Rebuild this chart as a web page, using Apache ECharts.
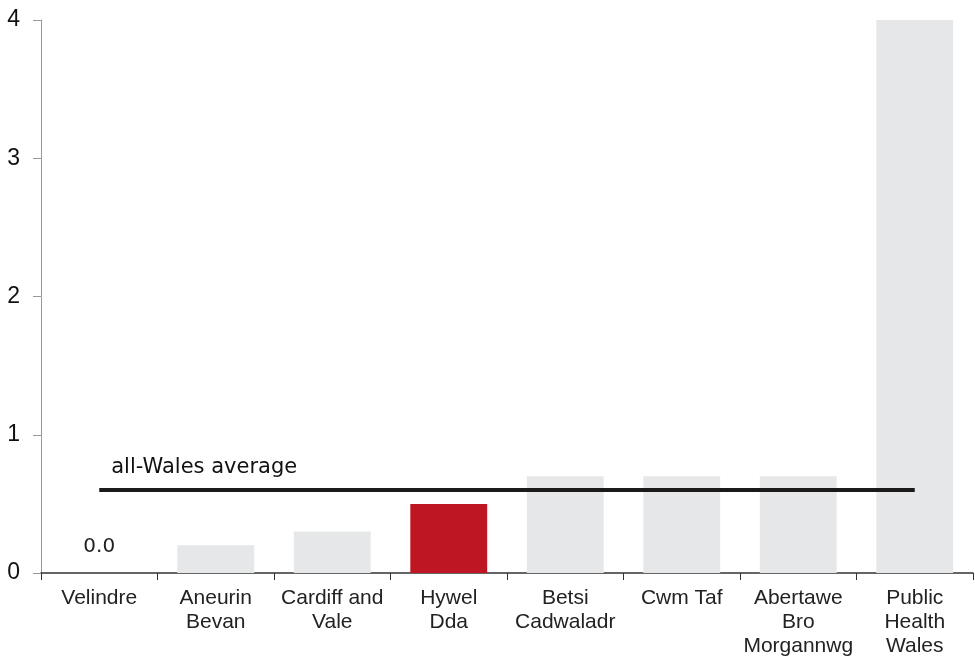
<!DOCTYPE html>
<html><head><meta charset="utf-8">
<script src="https://cdn.jsdelivr.net/npm/echarts@6/dist/echarts.min.js"></script>
<style>html,body{margin:0;padding:0;background:#fff}#c{width:975px;height:660px}</style>
</head><body><div id="c"></div>
<script>
const categories = ['Velindre','Aneurin\nBevan','Cardiff and\nVale','Hywel\nDda','Betsi\nCadwaladr','Cwm Taf','Abertawe\nBro\nMorgannwg','Public\nHealth\nWales'];
const values = [0.0, 0.2, 0.3, 0.5, 0.7, 0.7, 0.7, 4.0];
const highlightIndex = 3;
const average = 0.6;
const averageLabel = 'all-Wales average';
const yTicks = [0, 1, 2, 3, 4];

const FONT = '"Liberation Sans", Arial, sans-serif';
const WIDE = '"DejaVu Sans", sans-serif';
const chart = echarts.init(document.getElementById('c'), null, {renderer:'canvas'});
chart.setOption({
  animation:false,
  grid:{left:41, right:2, top:20, bottom:87, containLabel:false},
  xAxis:{
    type:'category', data:categories, boundaryGap:true,
    axisLine:{lineStyle:{color:'#333', width:1.5}},
    axisTick:{show:true, length:7, lineStyle:{color:'#333'}, alignWithLabel:false},
    axisLabel:{fontFamily:FONT, fontSize:21, color:'#222', lineHeight:24, margin:13, interval:0}
  },
  yAxis:{
    type:'value', min:yTicks[0], max:yTicks[yTicks.length-1], interval:1,
    splitLine:{show:false},
    axisLine:{show:true, lineStyle:{color:'#999'}},
    axisTick:{show:true, length:8, lineStyle:{color:'#999'}},
    axisLabel:{fontFamily:FONT, fontSize:23, color:'#111', margin:21}
  },
  series:[
    {
      type:'bar', barWidth:'66%',
      data: values.map((v,i)=>({
        value:v,
        itemStyle:{color: i===highlightIndex ? '#be1622' : '#e6e7e8'},
        label: v===0 ? {show:true, position:'top', distance:16, formatter:(p)=>p.value.toFixed(1), fontFamily:WIDE, fontSize:20, color:'#222'} : {show:false}
      }))
    },
    {
      type:'line', symbol:'circle', symbolSize:0, z:5,
      lineStyle:{color:'#1a1a1a', width:4},
      itemStyle:{color:'#1a1a1a'},
      data: categories.map((c,i)=> i===0 ? {value:average, label:{show:true, formatter:averageLabel, position:[12,-23], align:'left', verticalAlign:'middle', fontFamily:WIDE, fontSize:21, color:'#111'}} : average)
    }
  ]
});
</script></body></html>
